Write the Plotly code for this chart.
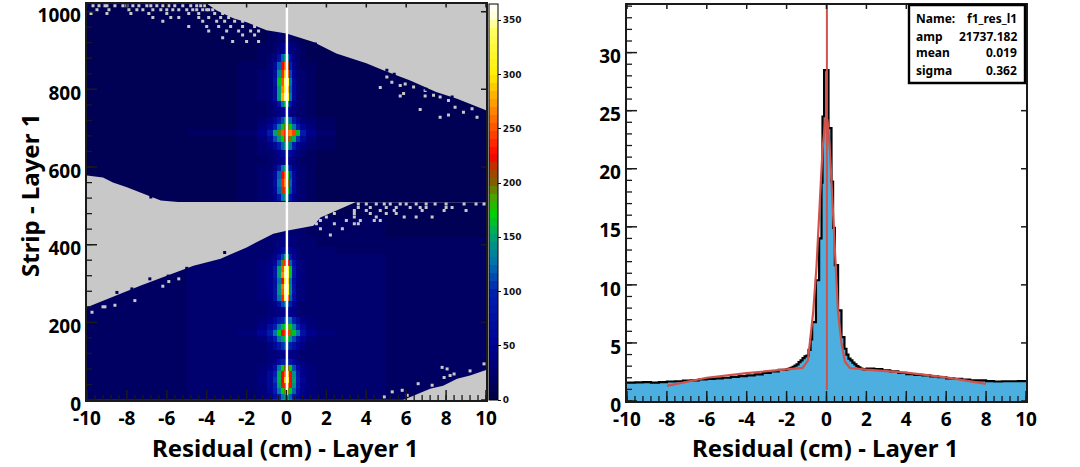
import plotly.graph_objects as go

W, H = 1080, 467

# ---------- left panel data ----------
col_edges = [-10, -5, -2.5, -1.5, -1, -.7, -.5, -.3, -.15, 0, .15, .3, .5, .7, 1, 1.5, 2.5, 5, 10]
row_edges = [0, 15, 30, 45, 60, 75, 90, 105, 130, 150, 165, 180, 195, 215, 240, 255, 270, 285, 300, 315, 330,
             345, 360, 375, 395, 420, 470, 512, 530, 550, 570, 590, 605, 625, 645, 665, 680, 695, 710, 730, 755,
             770, 790, 810, 830, 850, 870, 890, 920, 1020]
counts = [
 [20,22,26,32,44,70,100,130,140,140,120,90,60,40,30,26,22,18],
 [20,22,26,34,54,90,130,170,190,190,170,120,75,44,32,26,22,18],
 [20,22,28,36,60,100,150,215,240,260,220,140,85,50,34,28,22,18],
 [20,22,28,38,64,105,160,225,290,300,225,150,90,52,36,28,22,18],
 [20,22,28,36,60,100,155,220,250,280,225,145,85,50,34,28,22,18],
 [20,22,26,32,50,80,125,175,200,200,170,115,70,44,32,26,22,18],
 [20,22,24,28,36,50,70,90,100,100,85,65,44,34,28,24,22,18],
 [20,22,24,26,30,35,40,45,48,48,42,38,30,26,24,24,22,18],
 [20,22,24,28,38,60,85,105,115,115,100,80,56,38,28,24,22,18],
 [20,22,26,36,60,90,125,150,165,165,145,115,80,54,36,26,22,18],
 [20,24,32,56,90,130,170,220,235,235,195,165,125,80,50,30,24,18],
 [20,22,28,42,70,100,130,155,170,185,175,135,96,60,36,26,22,18],
 [20,22,24,32,44,65,85,100,110,120,125,100,70,42,30,26,22,18],
 [20,22,24,26,30,36,42,48,52,52,48,42,34,28,26,24,22,18],
 [20,22,24,28,34,50,75,110,125,120,90,55,36,28,26,24,22,18],
 [20,22,26,30,42,75,130,235,330,260,120,70,40,30,26,24,22,18],
 [20,22,26,32,46,80,140,255,350,300,135,75,42,30,26,24,22,18],
 [20,22,26,32,46,80,140,260,345,320,135,75,42,30,26,24,22,18],
 [20,22,26,30,44,75,130,220,300,290,125,70,40,30,26,24,22,18],
 [20,22,26,32,46,85,150,270,350,320,165,85,46,32,26,24,22,18],
 [20,22,26,32,46,85,150,250,340,300,165,85,44,32,26,24,22,18],
 [20,22,26,30,40,65,110,190,240,220,120,70,40,30,26,24,22,18],
 [20,22,24,28,34,48,75,115,150,140,85,52,34,28,24,24,22,18],
 [18,20,22,24,28,36,48,65,80,78,55,40,30,26,24,22,20,18],
 [16,20,22,24,26,30,34,38,42,42,36,32,28,24,22,20,18,16],
 [14,16,20,22,24,26,28,30,32,32,30,28,26,22,20,18,16,14],
 [12,14,16,18,20,24,26,28,32,34,28,24,22,18,16,14,12,12],
 [12,14,18,22,30,50,85,130,145,130,75,45,30,22,18,14,12,10],
 [12,14,18,24,36,65,120,205,240,170,110,60,34,24,18,14,12,10],
 [12,14,18,24,36,70,130,235,265,200,120,65,34,24,18,14,12,10],
 [12,14,18,24,34,65,120,225,250,180,110,60,32,24,18,14,12,10],
 [12,14,18,22,28,50,85,130,150,120,80,48,30,22,18,14,12,10],
 [12,14,16,20,24,30,38,48,55,50,42,32,24,20,16,14,12,10],
 [12,14,16,22,28,36,48,62,72,72,60,45,32,24,18,14,12,10],
 [12,14,18,24,40,65,90,120,145,150,125,90,58,38,26,16,12,10],
 [12,14,20,34,60,110,145,175,210,210,190,160,105,62,36,20,14,10],
 [14,16,26,50,90,150,195,250,240,250,265,245,165,90,46,24,14,10],
 [12,14,20,34,56,100,130,165,190,195,170,130,90,54,32,20,14,10],
 [12,14,18,24,38,60,85,115,140,145,120,85,56,36,24,16,12,10],
 [12,14,16,20,24,32,40,52,62,60,48,36,28,22,18,14,12,10],
 [12,14,16,20,26,45,80,130,160,140,85,50,30,22,18,14,12,10],
 [12,14,16,22,34,70,150,280,350,300,130,65,32,22,18,14,12,10],
 [12,14,16,22,34,70,150,265,310,280,120,60,32,22,18,14,12,10],
 [12,14,16,22,34,75,165,250,340,320,125,60,32,22,18,14,12,10],
 [12,14,16,22,34,70,145,240,290,250,110,55,30,22,18,14,12,10],
 [12,14,16,20,30,60,120,225,250,210,95,48,28,20,16,14,12,10],
 [10,12,14,18,24,42,75,120,140,130,70,40,24,18,14,12,10,8],
 [8,12,14,16,20,28,36,48,60,58,40,30,22,16,14,12,10,8],
 [8,10,12,14,16,20,22,24,26,26,22,20,16,14,12,10,8,8],
]

# empty (grey) regions: boundary
top_empty_x = [-4.0, -3.5, -2.67, -2.0, -1.0, 0, 1.35, 2.5, 4.0, 4.85, 6.2, 7.5, 8.55, 9.87, 10, 10, -4.0]
top_empty_y = [1021, 1003, 983, 973, 952, 944, 922, 892, 867, 849, 823, 793, 776, 750, 746, 1021, 1021]
midl_empty_x = [-10, -9.2, -8.7, -8, -7.2, -6.3, -5, -10, -10]
midl_empty_y = [578, 573, 560, 548, 532, 514, 508, 508, 578]
low_empty_x = [-10, -9.2, -8.5, -7.3, -6, -4.66, -3.3, -2, -0.66, 0, 1.35, 1.7, 2.85, 3.45, 10, 10, -10, -10]
low_empty_y = [239, 256, 269, 295, 320, 346, 364, 393, 428, 436, 449, 470, 496, 509, 509, 510, 510, 239]
br_empty_x = [5.85, 6.55, 7.2, 7.85, 8.55, 9.2, 9.87, 10, 10, 5.85]
br_empty_y = [0, 16, 29, 37, 55, 63, 75, 77, 0, 0]

speck_x = [-9.7,-9.4,-9.0,-8.6,-8.2,-7.4,-7.0,-6.5,-5.9,-5.6,-5.2,-4.8,-4.5,-4.3,-4.1,-9.1,-8.0,-7.7,-6.8,-6.2,
           -9.5,-8.9,-7.9,-7.2,-6.3,-6.0,-5.4,-5.0,-4.7,-4.2,-3.9,-3.7,-7.5,-6.7,-5.7,-4.5,-4.0,
           -9.8,-9.0,-7.8,-6.9,-6.0,-4.9,-4.4,-3.6,-3.2,
           -6.7,-5.8,-5.4,-4.4,-3.9,-3.3,-2.9,
           -6.2,-4.2,-3.5,-3.1,-2.6,-2.2,
           -4.9,-4.0,-3.4,-2.8,-2.2,-1.6,
           -3.9,-3.0,-2.4,-1.8,-1.4,
           -2.2,-1.6,-2.7,-2.0,-1.4,-3.2,
           4.7,5.03,5.28,5.7,5.95,6.37,6.95,5.7,5.87,6.95,7.37,7.7,8.12,8.45,8.87,6.7,7.7,8.12,9.3,9.55,
           3.6,4.0,4.5,4.9,5.2,5.7,6.0,6.5,7.0,7.45,8.0,8.9,9.5,9.9,
           3.6,4.2,5.0,5.5,6.2,6.7,7.0,8.0,8.3,
           3.4,4.0,4.7,5.4,6.8,7.9,9.0,
           2.4,3.4,4.2,5.0,5.5,
           2.0,3.4,4.5,5.9,6.5,7.3,
           1.7,3.0,3.7,4.4,4.7,
           1.5,2.4,3.4,3.6,1.7,2.8,2.2,
           7.8,8.05,8.4,7.9,8.2,9.2,9.9,6.6,7.3,5.3,5.8,6.05,4.9,
           -9.75,-9.2,-9.1,-8.6,-7.6,-6.2,-5.4,-5.9]
speck_y = [1015]*20 + [1005]*17 + [995]*9 + [985]*7 + [975]*6 + [962]*6 + [950]*5 + [940]*2 + [923]*3 + [933] + \
          [805,832,818,810,814,806,797,783,789,783,785,780,771,754,741,748,728,734,750,728] + \
          [505]*14 + [496]*9 + [488]*7 + [480]*5 + [471]*6 + [462]*5 + [454]*4 + [441]*2 + [425] + \
          [84,80,67,58,63,75,93,42,38,21,25,12,8] + \
          [226,240,240,244,256,293,312,305]

# filled cells lying out in the empty region
stray_x = [-9.1, -8.08, -7.7, -6.25, -5.9, -6.8, -8.5, -7.75, -6.85, -5.93, -5.0, -3.1, 1.45, 5.03, 5.4, 7.0, 8.3]
stray_y = [604, 561, 558, 548, 533, 523, 277, 286, 312, 319, 339, 380, 917, 849, 839, 800, 780]

cbar_ticks = [0, 50, 100, 150, 200, 250, 300, 350]

# ---------- right panel data ----------
hist_edges = [-10,-9.6,-9.2,-8.8,-8.4,-8,-7.6,-7.2,-6.8,-6.4,-6,-5.6,-5.2,-4.8,-4.4,-4,-3.6,-3.2,-2.8,-2.4,
              -2,-1.9,-1.8,-1.7,-1.6,-1.5,-1.4,-1.3,-1.2,-1.1,-1,-.9,-.8,-.72,-.53,-.37,-.25,-.2,-.12,.1,.25,.33,
              .42,.58,.75,.9,1,1.1,1.2,1.3,1.4,1.5,1.6,1.7,1.8,1.9,
              2,2.4,2.8,3.2,3.6,4,4.4,4.8,5.2,5.6,6,6.4,6.8,7.2,7.6,8,8.4,8.8,9.2,9.6,10]
hist_vals = [1.58,1.60,1.62,1.58,1.62,1.68,1.70,1.75,1.78,1.85,1.90,1.95,2.0,2.08,2.15,2.2,2.3,2.42,2.55,2.68,
             2.75,2.78,2.85,2.95,3.05,3.15,3.35,3.5,3.7,3.85,3.9,4.4,5.3,6.8,10.4,14,18.8,24.5,28.5,23.5,18.9,14.9,
             11.7,7.8,5.5,4.5,4.0,3.65,3.5,3.3,3.15,3.0,2.9,2.8,2.75,2.72,
             2.8,2.75,2.65,2.55,2.42,2.32,2.25,2.2,2.12,2.05,1.95,1.9,1.85,1.78,1.78,1.72,1.68,1.70,1.70,1.72]
fit_x = [-8,-6,-4,-2,-1.2,-.93,-.75,-.67,-.5,-.33,-.2,-.05,.05,.17,.33,.5,.58,.75,.92,1.17,2,4,6,8]
fit_y = [1.3,2.0,2.4,2.75,2.85,3.5,6.1,7.6,11.6,17.3,21.6,24.4,24.2,21.6,15.9,10.4,7.6,5,3.4,2.84,2.7,2.44,2.04,1.47]
mean_x = [0.02, 0.02]
mean_y = [0.95, 34.1]

stat_names = ["Name:", "amp", "mean", "sigma"]
stat_vals = ["f1_res_l1", "21737.182", "0.019", "0.362"]

x_ticks = [-10, -8, -6, -4, -2, 0, 2, 4, 6, 8, 10]
x_minor = [-10 + 0.4 * i for i in range(51)]

# ---------- style ----------
anchors = [(0, (0, 0, 64)), (15, (0, 0, 92)), (30, (0, 0, 118)), (50, (0, 0, 146)), (100, (0, 32, 176)), (125, (0, 112, 176)),
           (150, (0, 160, 112)), (172, (0, 208, 0)), (187, (80, 160, 0)), (200, (128, 96, 0)), (215, (192, 48, 0)),
           (225, (255, 0, 0)), (250, (255, 80, 0)), (300, (255, 240, 0)), (340, (255, 255, 96)), (355, (255, 255, 225)),
           (365, (255, 255, 255))]
ZMAX = 365
BANDS = 50


def col_at(v):
    for (a, ca), (b, cb) in zip(anchors, anchors[1:]):
        if a <= v <= b:
            t = (v - a) / (b - a)
            return "rgb(%d,%d,%d)" % tuple(round(p + (q - p) * t) for p, q in zip(ca, cb))
    return "rgb(255,255,255)"


cscale = []
for i in range(BANDS):
    c = col_at((i + .5) * ZMAX / BANDS)
    cscale += [[i / BANDS, c], [(i + 1) / BANDS, c]]

FONT = "Noto Sans"
GREY = "#c8c8c8"
INK = "#1a1a1a"


def dom(a, b, size):
    return [a / size, b / size]


def ydom(top, bottom):
    return [(H - bottom) / H, (H - top) / H]


fig = go.Figure()
cb = dict(thicknessmode="pixels", thickness=9, lenmode="fraction", len=(400 - 4) / H,
          x=489 / W, xanchor="left", xpad=0, y=(H - 400) / H, yanchor="bottom", ypad=0,
          outlinecolor="black", outlinewidth=1, ticks="outside", ticklen=3, tickcolor="black",
          tickvals=cbar_ticks, tickfont=dict(family="DejaVu Sans", size=9, color="#111", weight="bold"))
fig.add_trace(go.Heatmap(x=col_edges, y=row_edges, z=counts, zmin=0, zmax=ZMAX, colorscale=cscale, colorbar=cb,
                         hoverinfo="skip", xaxis="x", yaxis="y"))
for px, py in [(top_empty_x, top_empty_y), (midl_empty_x, midl_empty_y), (low_empty_x, low_empty_y), (br_empty_x, br_empty_y)]:
    fig.add_trace(go.Scatter(x=px, y=py, mode="lines", line=dict(width=0), fill="toself", fillcolor=GREY,
                             showlegend=False, hoverinfo="skip", xaxis="x", yaxis="y"))
fig.add_trace(go.Scatter(x=speck_x, y=speck_y, mode="markers", marker=dict(symbol="square", size=3, color=GREY),
                         showlegend=False, hoverinfo="skip", xaxis="x", yaxis="y"))
fig.add_trace(go.Scatter(x=stray_x, y=stray_y, mode="markers", marker=dict(symbol="square", size=3, color="#00005c"),
                         showlegend=False, hoverinfo="skip", xaxis="x", yaxis="y"))
fig.add_trace(go.Scatter(x=[0.02, 0.02], y=[12, 1020], mode="lines", line=dict(color="white", width=2.4),
                         showlegend=False, hoverinfo="skip", xaxis="x", yaxis="y"))

step_x = [e for e in hist_edges]
step_y = hist_vals + [hist_vals[-1]]
fig.add_trace(go.Scatter(x=step_x, y=step_y, mode="lines", line=dict(color="black", width=2.2, shape="hv"),
                         fill="tozeroy", fillcolor="#4cafdf", showlegend=False, hoverinfo="skip", xaxis="x2", yaxis="y2"))
fig.add_trace(go.Scatter(x=fit_x, y=fit_y, mode="lines", line=dict(color="#d0524a", width=2.2),
                         showlegend=False, hoverinfo="skip", xaxis="x2", yaxis="y2"))
fig.add_trace(go.Scatter(x=mean_x, y=mean_y, mode="lines", line=dict(color="#d0524a", width=2),
                         showlegend=False, hoverinfo="skip", xaxis="x2", yaxis="y2"))

tickfont = dict(family=FONT, size=19, color="black", weight="bold")


def xaxis(domain, anchor):
    return dict(domain=domain, anchor=anchor, range=[-10, 10], tickvals=x_ticks, ticktext=[str(t) for t in x_ticks],
                ticks="", showline=True, linecolor=INK, linewidth=2.4,
                mirror=True, showgrid=False, zeroline=False, tickfont=tickfont)


def yaxis(domain, anchor, rng, major):
    return dict(domain=domain, anchor=anchor, range=rng, dtick=major, tick0=0,
                ticks="", showline=True, linecolor=INK, linewidth=2.4,
                mirror=True, showgrid=False, zeroline=False, tickfont=tickfont, ticklabelshift=4)


def frame_ticks(xref, yref, yrng, y_major, y_minor):
    """Inside tick marks drawn above the traces, placed through the axes' own scales."""
    out = []

    def xt(v, anchor, a, b, w):
        out.append(dict(type="line", xref=xref, yref=yref, layer="above", x0=v, x1=v, ysizemode="pixel",
                        yanchor=anchor, y0=a, y1=b, line=dict(color=INK, width=w)))

    def yt(v, anchor, a, b, w):
        out.append(dict(type="line", xref=xref, yref=yref, layer="above", y0=v, y1=v, xsizemode="pixel",
                        xanchor=anchor, x0=a, x1=b, line=dict(color=INK, width=w)))

    for v in x_minor:
        xt(v, yrng[0], 0, 5, 1.3)
    for v in x_ticks:
        xt(v, yrng[0], 0, 10, 1.5)
        xt(v, yrng[1], 0, -4, 1.5)
    for v in y_minor:
        yt(v, -10, 0, 5, 1.3)
    for v in y_major:
        yt(v, -10, 0, 10, 1.5)
        yt(v, 10, 0, -5, 1.5)
    return out


Ld = dom(87, 486, W)
Rd = dom(627, 1026, W)
Yd = ydom(3.5, 400)
Yd2 = ydom(5, 401)
R1 = [0, 1021]
R2 = [0, 34.1]

ann = []
for text, xp in [("Residual (cm) - Layer 1", 285), ("Residual (cm) - Layer 1", 825)]:
    ann.append(dict(text=text, xref="paper", yref="paper", x=xp / W, y=(H - 447) / H, showarrow=False,
                    font=dict(family=FONT, size=24, color="black", weight="bold"), xanchor="center", yanchor="middle"))
ann.append(dict(text="Strip - Layer 1", xref="paper", yref="paper", x=30 / W, y=(H - 196) / H, textangle=-90, showarrow=False,
                font=dict(family=FONT, size=24, color="black", weight="bold"), xanchor="center", yanchor="middle"))
for name, val, py in zip(stat_names, stat_vals, [19, 36, 53, 70]):
    ann.append(dict(text=name, xref="paper", yref="paper", x=914 / W, y=(H - py) / H, showarrow=False, xanchor="left", yanchor="middle",
                    font=dict(family=FONT, size=12, color="black", weight="bold")))
    ann.append(dict(text=val, xref="paper", yref="paper", x=1019 / W, y=(H - py) / H, showarrow=False, xanchor="right", yanchor="middle",
                    font=dict(family=FONT, size=12, color="black", weight="bold")))

box = dict(type="rect", xref="paper", yref="paper", x0=909 / W, x1=1025 / W, y0=(H - 83) / H, y1=(H - 5) / H,
           fillcolor="white", line=dict(color="black", width=2.4), layer="above")

shapes = frame_ticks("x", "y", R1, list(range(0, 1001, 200)), list(range(0, 1021, 40)))
shapes += frame_ticks("x2", "y2", R2, list(range(0, 31, 5)), list(range(0, 35)))
shapes.append(box)

fig.update_layout(
    width=W, height=H, autosize=False, margin=dict(l=0, r=0, t=0, b=0, pad=0, autoexpand=False),
    paper_bgcolor="white", plot_bgcolor="white", showlegend=False,
    xaxis=xaxis(Ld, "y"), yaxis=yaxis(Yd, "x", R1, 200),
    xaxis2=xaxis(Rd, "y2"), yaxis2=yaxis(Yd2, "x2", R2, 5),
    annotations=ann, shapes=shapes,
)
fig.write_html("out.html", config={"displayModeBar": False},
               post_script="document.body.style.margin='0';document.body.style.overflow='hidden';")
